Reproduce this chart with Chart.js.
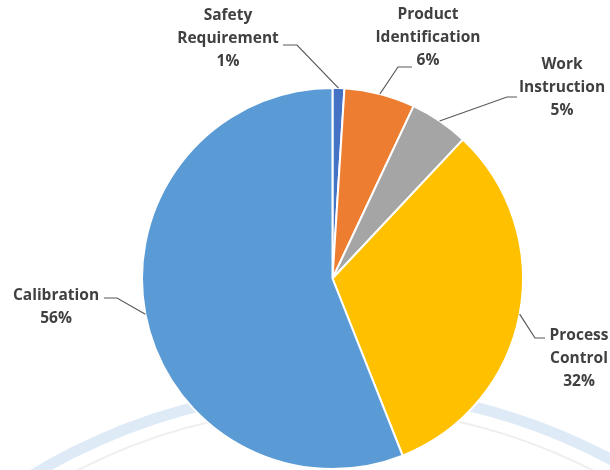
<!DOCTYPE html>
<html>
<head>
<meta charset="utf-8">
<script src="https://cdn.jsdelivr.net/npm/chart.js@4.4.0/dist/chart.umd.min.js"></script>
<style>
  body { margin: 0; background: #fff; }
  #wrap { width: 610px; height: 470px; }
</style>
</head>
<body>
<div id="wrap"><canvas id="PieChart" width="610" height="470"></canvas></div>
<script>
var labels = [['Safety', 'Requirement'], ['Product', 'Identification'], ['Work', 'Instruction'], ['Process', 'Control'], ['Calibration']];
var values = [1, 6, 5, 32, 56];
var colors = ['#4472C4', '#ED7D31', '#A5A5A5', '#FFC000', '#5B9BD5'];

// where each label goes: elbow of leader line, end of leader, text centre
var labelPlaces = [
    { elbow: [297, 45], end: [283, 45], text: [228, 16] },
    { elbow: [398, 67], end: [412, 67], text: [428, 15] },
    { elbow: [507, 97], end: [517, 97], text: [562, 65] },
    { elbow: [535, 338], end: [545, 338], text: [579, 336] },
    { elbow: [117, 298], end: [104, 298], text: [56, 296] }
];

var watermark = {
    id: 'watermark',
    beforeDraw: function (chart) {
        var ctx = chart.ctx;
        ctx.save();
        ctx.fillStyle = '#fff';
        ctx.fillRect(0, 0, chart.width, chart.height);
        ctx.lineWidth = 11;
        ctx.strokeStyle = 'rgba(91,155,213,0.2)';
        ctx.beginPath();
        ctx.arc(335, 970, 580, Math.PI * 1.1, Math.PI * 1.9);
        ctx.stroke();
        ctx.lineWidth = 2;
        ctx.strokeStyle = 'rgba(150,150,150,0.15)';
        ctx.beginPath();
        ctx.arc(335, 970, 562, Math.PI * 1.1, Math.PI * 1.9);
        ctx.stroke();
        ctx.restore();
    }
};

var pieLabels = {
    id: 'pieLabels',
    afterDraw: function (chart) {
        var ctx = chart.ctx;
        var meta = chart.getDatasetMeta(0);
        var total = values.reduce(function (a, b) { return a + b; }, 0);
        ctx.save();
        meta.data.forEach(function (arc, i) {
            var p = arc.getProps(['x', 'y', 'startAngle', 'endAngle', 'outerRadius'], true);
            var mid = (p.startAngle + p.endAngle) / 2;
            var sx = p.x + Math.cos(mid) * p.outerRadius;
            var sy = p.y + Math.sin(mid) * p.outerRadius;
            var place = labelPlaces[i];
            ctx.strokeStyle = '#595959';
            ctx.lineWidth = 1.2;
            ctx.beginPath();
            ctx.moveTo(sx, sy);
            ctx.lineTo(place.elbow[0], place.elbow[1]);
            ctx.lineTo(place.end[0], place.end[1]);
            ctx.stroke();

            var lines = labels[i].concat([Math.round(values[i] / total * 100) + '%']);
            ctx.fillStyle = '#404040';
            ctx.font = 'bold 15.5px "Open Sans"';
            ctx.textAlign = 'center';
            ctx.textBaseline = 'middle';
            lines.forEach(function (t, k) {
                ctx.fillText(t, place.text[0], place.text[1] + k * 23);
            });
        });
        ctx.restore();
    }
};

var data = {
    labels: labels.map(function (l) { return l.join(' '); }),
    datasets: [{
        data: values,
        backgroundColor: colors,
        borderColor: '#fff',
        borderWidth: 2
    }]
};

var config = {
    type: 'pie',
    data,
    options: {
        responsive: false,
        animation: false,
        layout: { padding: { left: 140, right: 85, top: 87, bottom: 0 } },
        plugins: {
            legend: { display: false },
            tooltip: { enabled: false }
        }
    },
    plugins: [watermark, pieLabels]
};

var pieChart = new Chart(
    document.getElementById('PieChart'),
    config,
);
</script>
</body>
</html>
